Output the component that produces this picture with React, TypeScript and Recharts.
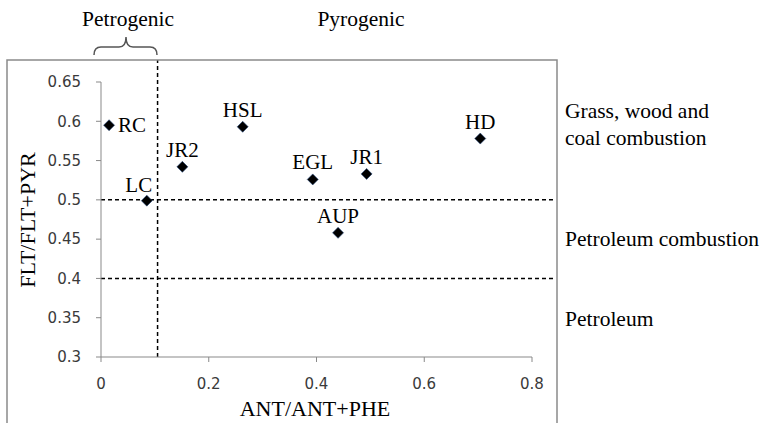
import React from "react";
import { ReferenceLine, Scatter, ScatterChart, XAxis, YAxis } from "recharts";

// Sampling sites and their diagnostic ratios
const sites = ["RC", "LC", "JR2", "HSL", "EGL", "JR1", "AUP", "HD"];
const antRatio = [0.015, 0.085, 0.151, 0.263, 0.393, 0.493, 0.44, 0.704];
const fltRatio = [0.595, 0.499, 0.542, 0.593, 0.526, 0.533, 0.458, 0.578];

// Axis ticks
const xTicks = [0, 0.2, 0.4, 0.6, 0.8];
const yTicks = [0.3, 0.35, 0.4, 0.45, 0.5, 0.55, 0.6, 0.65];

// Source boundaries (dashed lines)
const petroBoundary = 0.105;
const regimeBoundaries = [0.5, 0.4];
const lineEndX = 0.842;
const lineTopY = 0.678;

const data = sites.map((name, i) => ({ name, x: antRatio[i], y: fltRatio[i] }));

const serif = "Liberation Serif";
const sans = "DejaVu Sans";

// where each site name sits relative to its marker
const labelOffsets: Record<string, { dx: number; dy: number; anchor: string }> = {
  RC: { dx: 9, dy: 0, anchor: "start" },
  LC: { dx: -8, dy: -16, anchor: "middle" },
};

const DiamondWithLabel = (props: any) => {
  const { cx, cy, payload } = props;
  const r = 5.5;
  const off = labelOffsets[payload.name] || { dx: 0, dy: -17, anchor: "middle" };
  return (
    <g>
      <polygon
        points={`${cx},${cy - r} ${cx + r},${cy} ${cx},${cy + r} ${cx - r},${cy}`}
        fill="#000"
        stroke="#2b4d80"
        strokeWidth={0.6}
      />
      <text
        x={cx + off.dx}
        y={cy + off.dy}
        textAnchor={off.anchor as any}
        dominantBaseline="central"
        fontFamily={serif}
        fontSize={21}
        fill="#000"
      >
        {payload.name}
      </text>
    </g>
  );
};

const App = () => {
  return (
    <div style={{ position: "absolute", left: 0, top: 0, width: 765, height: 423 }}>
      <ScatterChart
        width={765}
        height={423}
        margin={{ top: 82, right: 233, bottom: 26, left: 0 }}
      >
        <XAxis
          type="number"
          dataKey="x"
          domain={[0, 0.8]}
          ticks={xTicks}
          tickFormatter={(v) => String(v)}
          height={40}
          stroke="#898989"
          tickSize={5}
          tickMargin={16}
          tick={{ fontSize: 15, fill: "#3a3a3a", fontFamily: sans }}
        />
        <YAxis
          type="number"
          dataKey="y"
          domain={[0.3, 0.65]}
          ticks={yTicks}
          tickFormatter={(v) => String(v)}
          width={101}
          stroke="#898989"
          tickSize={5}
          tickMargin={15}
          tick={{ fontSize: 15, fill: "#3a3a3a", fontFamily: sans }}
        />
        <ReferenceLine
          segment={[
            { x: petroBoundary, y: 0.3 },
            { x: petroBoundary, y: lineTopY },
          ]}
          ifOverflow="visible"
          stroke="#000"
          strokeWidth={1.5}
          strokeDasharray="4 3"
        />
        {regimeBoundaries.map((b) => (
          <ReferenceLine
            key={b}
            segment={[
              { x: 0, y: b },
              { x: lineEndX, y: b },
            ]}
            ifOverflow="visible"
            stroke="#000"
            strokeWidth={1.5}
            strokeDasharray="4 3"
          />
        ))}
        <Scatter data={data} shape={DiamondWithLabel} isAnimationActive={false} />
      </ScatterChart>

      {/* frame, brace and annotation text */}
      <svg
        width={765}
        height={423}
        style={{ position: "absolute", left: 0, top: 0, pointerEvents: "none" }}
      >
        <path d="M7,423 V60 H557 V423" fill="none" stroke="#8a8a8a" strokeWidth={1.5} />
        <path
          d="M94,55 Q94,47 101,47 H119 Q126,47 126,37 Q126,47 133,47 H150 Q157,47 157,55"
          fill="none"
          stroke="#555"
          strokeWidth={1.5}
        />
        <g fontFamily={serif} fontSize={21.5} fill="#000">
          <text x={128} y={19} textAnchor="middle" dominantBaseline="central">
            Petrogenic
          </text>
          <text x={361} y={19} textAnchor="middle" dominantBaseline="central">
            Pyrogenic
          </text>
          <text x={565} y={111} dominantBaseline="central">
            Grass, wood and
          </text>
          <text x={565} y={138} dominantBaseline="central">
            coal combustion
          </text>
          <text x={565} y={239} dominantBaseline="central">
            Petroleum combustion
          </text>
          <text x={565} y={319} dominantBaseline="central">
            Petroleum
          </text>
        </g>
        <g fontFamily={serif} fontSize={22} fill="#000">
          <text x={315} y={408} textAnchor="middle" dominantBaseline="central">
            ANT/ANT+PHE
          </text>
          <text
            x={27}
            y={220}
            textAnchor="middle"
            dominantBaseline="central"
            transform="rotate(-90 27 220)"
          >
            FLT/FLT+PYR
          </text>
        </g>
      </svg>
    </div>
  );
};

export default App;
